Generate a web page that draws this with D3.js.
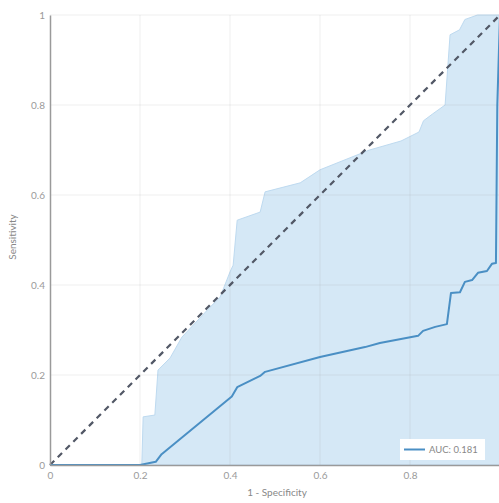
<!DOCTYPE html>
<html>
<head>
<meta charset="utf-8">
<script src="https://cdn.jsdelivr.net/npm/d3@7"></script>
<style>
  html, body { margin: 0; padding: 0; background: #fff; }
  svg { display: block; font-family: "Lato", "Open Sans", sans-serif; }
</style>
</head>
<body>
<svg id="chart" width="499" height="503"></svg>
<script>
// ROC curve with confidence band
const aucLabel = 'AUC: 0.181';
const ticks = [0, 0.2, 0.4, 0.6, 0.8, 1];

// mean ROC curve
const meanFpr = [0, 0.2, 0.235, 0.248, 0.404, 0.416, 0.467, 0.478, 0.6, 0.7, 0.733, 0.818, 0.829, 0.856, 0.882, 0.891, 0.911, 0.922, 0.938, 0.951, 0.971, 0.982, 0.991, 0.994, 1];
const meanTpr = [0, 0, 0.007, 0.024, 0.152, 0.173, 0.198, 0.207, 0.24, 0.262, 0.271, 0.287, 0.298, 0.307, 0.313, 0.382, 0.384, 0.407, 0.411, 0.427, 0.431, 0.447, 0.449, 0.8, 1];

// upper edge of the band (lower edge sits at 0)
const bandFpr = [0, 0.204, 0.207, 0.233, 0.24, 0.267, 0.293, 0.356, 0.378, 0.4, 0.407, 0.416, 0.467, 0.478, 0.556, 0.6, 0.71, 0.78, 0.82, 0.83, 0.85, 0.878, 0.889, 0.91, 0.922, 0.95, 1];
const bandUpper = [0, 0, 0.107, 0.111, 0.211, 0.238, 0.284, 0.351, 0.373, 0.429, 0.444, 0.544, 0.562, 0.607, 0.627, 0.656, 0.70, 0.72, 0.74, 0.765, 0.78, 0.80, 0.956, 0.967, 0.99, 1, 1];

const svg = d3.select('#chart');
const margin = { left: 50, top: 15 };
const plotW = 450, plotH = 450;

const x = d3.scaleLinear().domain([0, 1]).range([margin.left, margin.left + plotW]);
const y = d3.scaleLinear().domain([0, 1]).range([margin.top + plotH, margin.top]);

const band = bandFpr.map((f, i) => ({ f, u: bandUpper[i] }));
const mean = meanFpr.map((f, i) => ({ f, t: meanTpr[i] }));

// band
svg.append('path')
  .datum(band)
  .attr('fill', 'rgb(213,232,246)')
  .attr('stroke', 'rgb(190,218,240)')
  .attr('stroke-width', 1)
  .attr('d', d3.area().x(d => x(d.f)).y0(y(0)).y1(d => y(d.u)));

// grid on top of the band, faint
const grid = svg.append('g');
ticks.filter(t => t > 0).forEach(t => {
  grid.append('line')
    .attr('x1', x(t)).attr('x2', x(t))
    .attr('y1', y(0)).attr('y2', y(1))
    .attr('stroke', 'rgba(150,150,150,0.15)');
  grid.append('line')
    .attr('x1', x(0)).attr('x2', x(1))
    .attr('y1', y(t)).attr('y2', y(t))
    .attr('stroke', 'rgba(150,150,150,0.15)');
});

// chance diagonal
svg.append('line')
  .attr('x1', x(0)).attr('y1', y(0))
  .attr('x2', x(1)).attr('y2', y(1))
  .attr('stroke', '#525866')
  .attr('stroke-width', 2.2)
  .attr('stroke-dasharray', '6,5');

// mean curve
svg.append('path')
  .datum(mean)
  .attr('fill', 'none')
  .attr('stroke', '#4a8fc4')
  .attr('stroke-width', 2)
  .attr('stroke-linejoin', 'round')
  .attr('d', d3.line().x(d => x(d.f)).y(d => y(d.t)));

// axes
const xAxis = svg.append('g')
  .attr('transform', `translate(0,${y(0)})`)
  .call(d3.axisBottom(x).tickValues(ticks.slice(0, 5)).tickSize(0).tickPadding(7).tickFormat(d3.format('~g')));
const yAxis = svg.append('g')
  .attr('transform', `translate(${x(0)},0)`)
  .call(d3.axisLeft(y).tickValues(ticks).tickSize(0).tickPadding(5).tickFormat(d3.format('~g')));
[xAxis, yAxis].forEach(a => {
  a.select('.domain').attr('stroke', '#9a9a9a').attr('stroke-width', 1.5);
  a.selectAll('text').attr('fill', '#9a9a9a').attr('font-size', 10).attr('font-family', 'Lato, sans-serif');
});

svg.append('text')
  .attr('x', 277).attr('y', 496)
  .attr('text-anchor', 'middle')
  .attr('fill', '#888').attr('font-size', 10)
  .text('1 - Specificity');
svg.append('text')
  .attr('transform', 'translate(16,237) rotate(-90)')
  .attr('text-anchor', 'middle')
  .attr('fill', '#888').attr('font-size', 10)
  .text('Sensitivity');

// legend
const lg = svg.append('g').attr('transform', 'translate(400,439)');
lg.append('rect').attr('width', 85).attr('height', 21).attr('fill', '#fff');
lg.append('line').attr('x1', 4).attr('x2', 25).attr('y1', 10.5).attr('y2', 10.5)
  .attr('stroke', '#4a8fc4').attr('stroke-width', 2);
lg.append('text').attr('x', 29).attr('y', 14).attr('fill', '#888').attr('font-size', 9.5)
  .text(aucLabel);
</script>
</body>
</html>
